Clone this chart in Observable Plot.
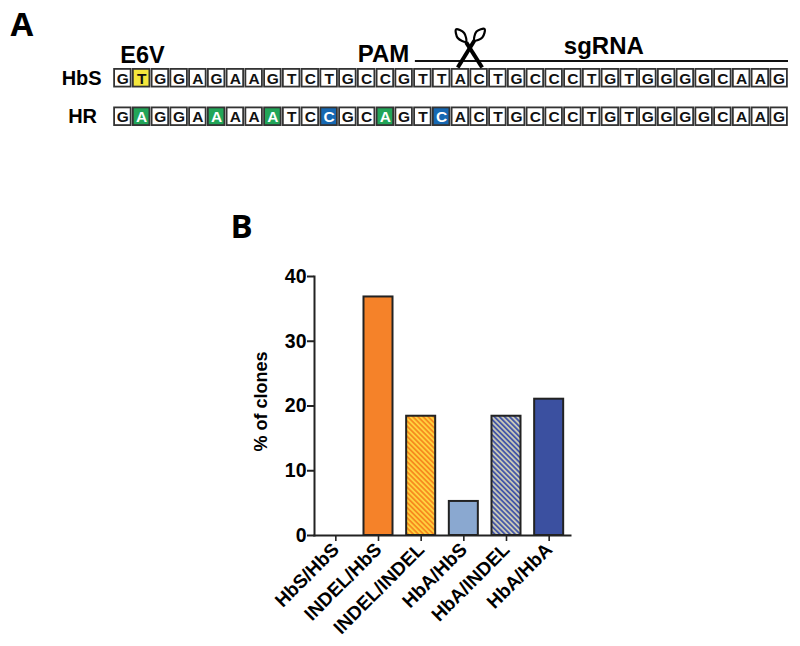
<!DOCTYPE html>
<html><head><meta charset="utf-8">
<script src="https://cdn.jsdelivr.net/npm/d3@7"></script>
<script src="https://cdn.jsdelivr.net/npm/@observablehq/plot@0.6"></script>
<style>
html,body{margin:0;padding:0;background:#fff}
#wrap{position:relative;width:800px;height:646px;overflow:hidden}
#wrap svg{position:absolute;left:0;display:block;background:transparent}
</style></head><body><div id="wrap"></div>
<script>
// Panel A data
const hbsSeq = "GTGGAGAAGTCTGCCGTTACTGCCCTGTGGGGCAAG".split("");
const hrSeq  = "GAGGAAAAATCCGCAGTCACTGCCCTGTGGGGCAAG".split("");
const rowNames = ["HbS","HR"];
const highlightYellow = [1];      // HbS
const highlightGreen = [1,5,8,14]; // HR
const highlightBlue = [11,17];     // HR
// Panel B data
const genotypes = ["HbS/HbS","INDEL/HbS","INDEL/INDEL","HbA/HbS","HbA/INDEL","HbA/HbA"];
const percentClones = [0,36.84,18.42,5.26,18.42,21.05];
const yTicks = [0,10,20,30,40];
const barFills = ["#f58229","#f58229","url(#hatchOrange)","#8aa8d0","url(#hatchBlue)","#3b50a0"];

const font = "'Liberation Sans',Arial,sans-serif";
const ink = "#222";
const rowH = 0.48;
const cells = [];
[hbsSeq,hrSeq].forEach((seq,r)=>seq.forEach((b,i)=>{
  let fill="#fff", color="#111";
  if(r===0 && highlightYellow.includes(i)) fill="#f4e73c";
  if(r===1 && highlightGreen.includes(i)){fill="#22a558";color="#fff";}
  if(r===1 && highlightBlue.includes(i)){fill="#1668b2";color="#fff";}
  cells.push({i,r,b,fill,color});
}));
const labelsA = [
  {x:-1.7,y:0.24,t:rowNames[0],s:20},
  {x:-1.65,y:1.24,t:rowNames[1],s:20},
  {x:1.55,y:-0.35,t:"E6V",s:23.5},
  {x:14.4,y:-0.37,t:"PAM",s:24},
  {x:26.15,y:-0.6,t:"sgRNA",s:24}
];
const scissorBlades = [
  {x1:18.81,y1:-0.69,x2:19.66,y2:-0.04},
  {x1:19.25,y1:-0.74,x2:18.36,y2:-0.04}
];
const scissorHandles = [
  {h:"left",x:18.27,y:-1.03},{h:"left",x:18.70,y:-0.935},{h:"left",x:18.80,y:-0.706},{h:"left",x:18.36,y:-0.805},
  {h:"right",x:19.79,y:-1.04},{h:"right",x:19.67,y:-0.818},{h:"right",x:19.25,y:-0.74},{h:"right",x:19.36,y:-0.974}
];

const plotA = Plot.plot({
  width:800,height:140,margin:0,marginLeft:113,marginRight:12,
  x:{domain:[0,36],axis:null},
  y:{domain:[-1.779,1.857],range:[0,140],axis:null},
  style:{fontFamily:font,background:"transparent"},
  marks:[
    Plot.rect(cells,{x1:d=>d.i,x2:d=>d.i+1,y1:d=>d.r,y2:d=>d.r+rowH,
      fill:{value:d=>d.fill,scale:null},stroke:"#333",strokeWidth:1.8,insetLeft:1.1,insetRight:1.1,insetTop:0.4,insetBottom:0.4}),
    Plot.text(cells,{x:d=>d.i+0.5,y:d=>d.r+rowH/2,text:"b",fill:{value:d=>d.color,scale:null},
      fontSize:15.5,fontWeight:700,dy:0.5}),
    Plot.text(labelsA,{x:"x",y:"y",text:"t",fontSize:"s",fontWeight:700,fill:"#000"}),
    Plot.ruleY([-0.21],{x1:16.1,x2:36,stroke:"#111",strokeWidth:2}),
    Plot.link(scissorBlades,{x1:"x1",y1:"y1",x2:"x2",y2:"y2",stroke:"#000",strokeWidth:4}),
    Plot.line(scissorHandles,{x:"x",y:"y",z:"h",curve:"catmull-rom-closed",stroke:"#000",strokeWidth:2.2}),
    Plot.text(["A"],{frameAnchor:"top-left",dx:-103,dy:12,fontSize:33,fontWeight:700,
      fontFamily:"'Open Sans',sans-serif",fill:"#000",lineAnchor:"top"})
  ]
});

const hatchDefs = () => {
  const defs = d3.create("svg:defs");
  const mk=(id,a,b)=>{
    const p=defs.append("pattern").attr("id",id).attr("patternUnits","userSpaceOnUse")
      .attr("width",3.6).attr("height",3.6).attr("patternTransform","rotate(-45)");
    p.append("rect").attr("width",3.6).attr("height",3.6).attr("fill",a);
    p.append("rect").attr("width",1.8).attr("height",3.6).attr("fill",b);
  };
  mk("hatchOrange","#f68b1f","#ffd23f");
  mk("hatchBlue","#4557a8","#c8c8b8");
  return defs.node();
};
const rows = genotypes.map((g,i)=>({g,v:percentClones[i],fill:barFills[i]}));

const plotB = Plot.plot({
  width:800,height:506,marginLeft:314,marginRight:230,marginTop:136,marginBottom:111,
  style:{fontFamily:font,background:"transparent"},
  x:{domain:genotypes,paddingInner:0.32,paddingOuter:0.16,round:false,label:null},
  y:{domain:[0,40],label:null},
  marks:[
    hatchDefs,
    Plot.barY(rows.filter(d=>d.v>0),{x:"g",y:"v",fill:{value:d=>d.fill,scale:null},stroke:"#222",strokeWidth:2}),
    Plot.axisY({ticks:yTicks,tickSize:7,tickPadding:1,fontSize:19.5,fontWeight:700,stroke:ink,strokeWidth:2,color:"#000",label:null}),
    Plot.axisX({tickSize:6,tickPadding:5,fontSize:19,fontWeight:700,stroke:ink,strokeWidth:1.6,color:"#000",
      tickRotate:-45,textAnchor:"end",label:null}),
    Plot.frame({anchor:"left",stroke:ink,strokeWidth:2}),
    Plot.frame({anchor:"bottom",stroke:ink,strokeWidth:2}),
    Plot.text(["% of clones"],{frameAnchor:"left",textAnchor:"middle",dx:-53,dy:-4.5,rotate:-90,fontSize:18,fontWeight:700,fill:"#000"}),
    Plot.text(["B"],{frameAnchor:"top-left",dx:-84,dy:-62,fontSize:33,fontWeight:700,
      fontFamily:"'Open Sans',sans-serif",fill:"#000",lineAnchor:"top"})
  ]
});
const wrap=document.getElementById("wrap");
plotA.style.top="0px"; plotB.style.top="140px";
wrap.append(plotA,plotB);
</script></body></html>
